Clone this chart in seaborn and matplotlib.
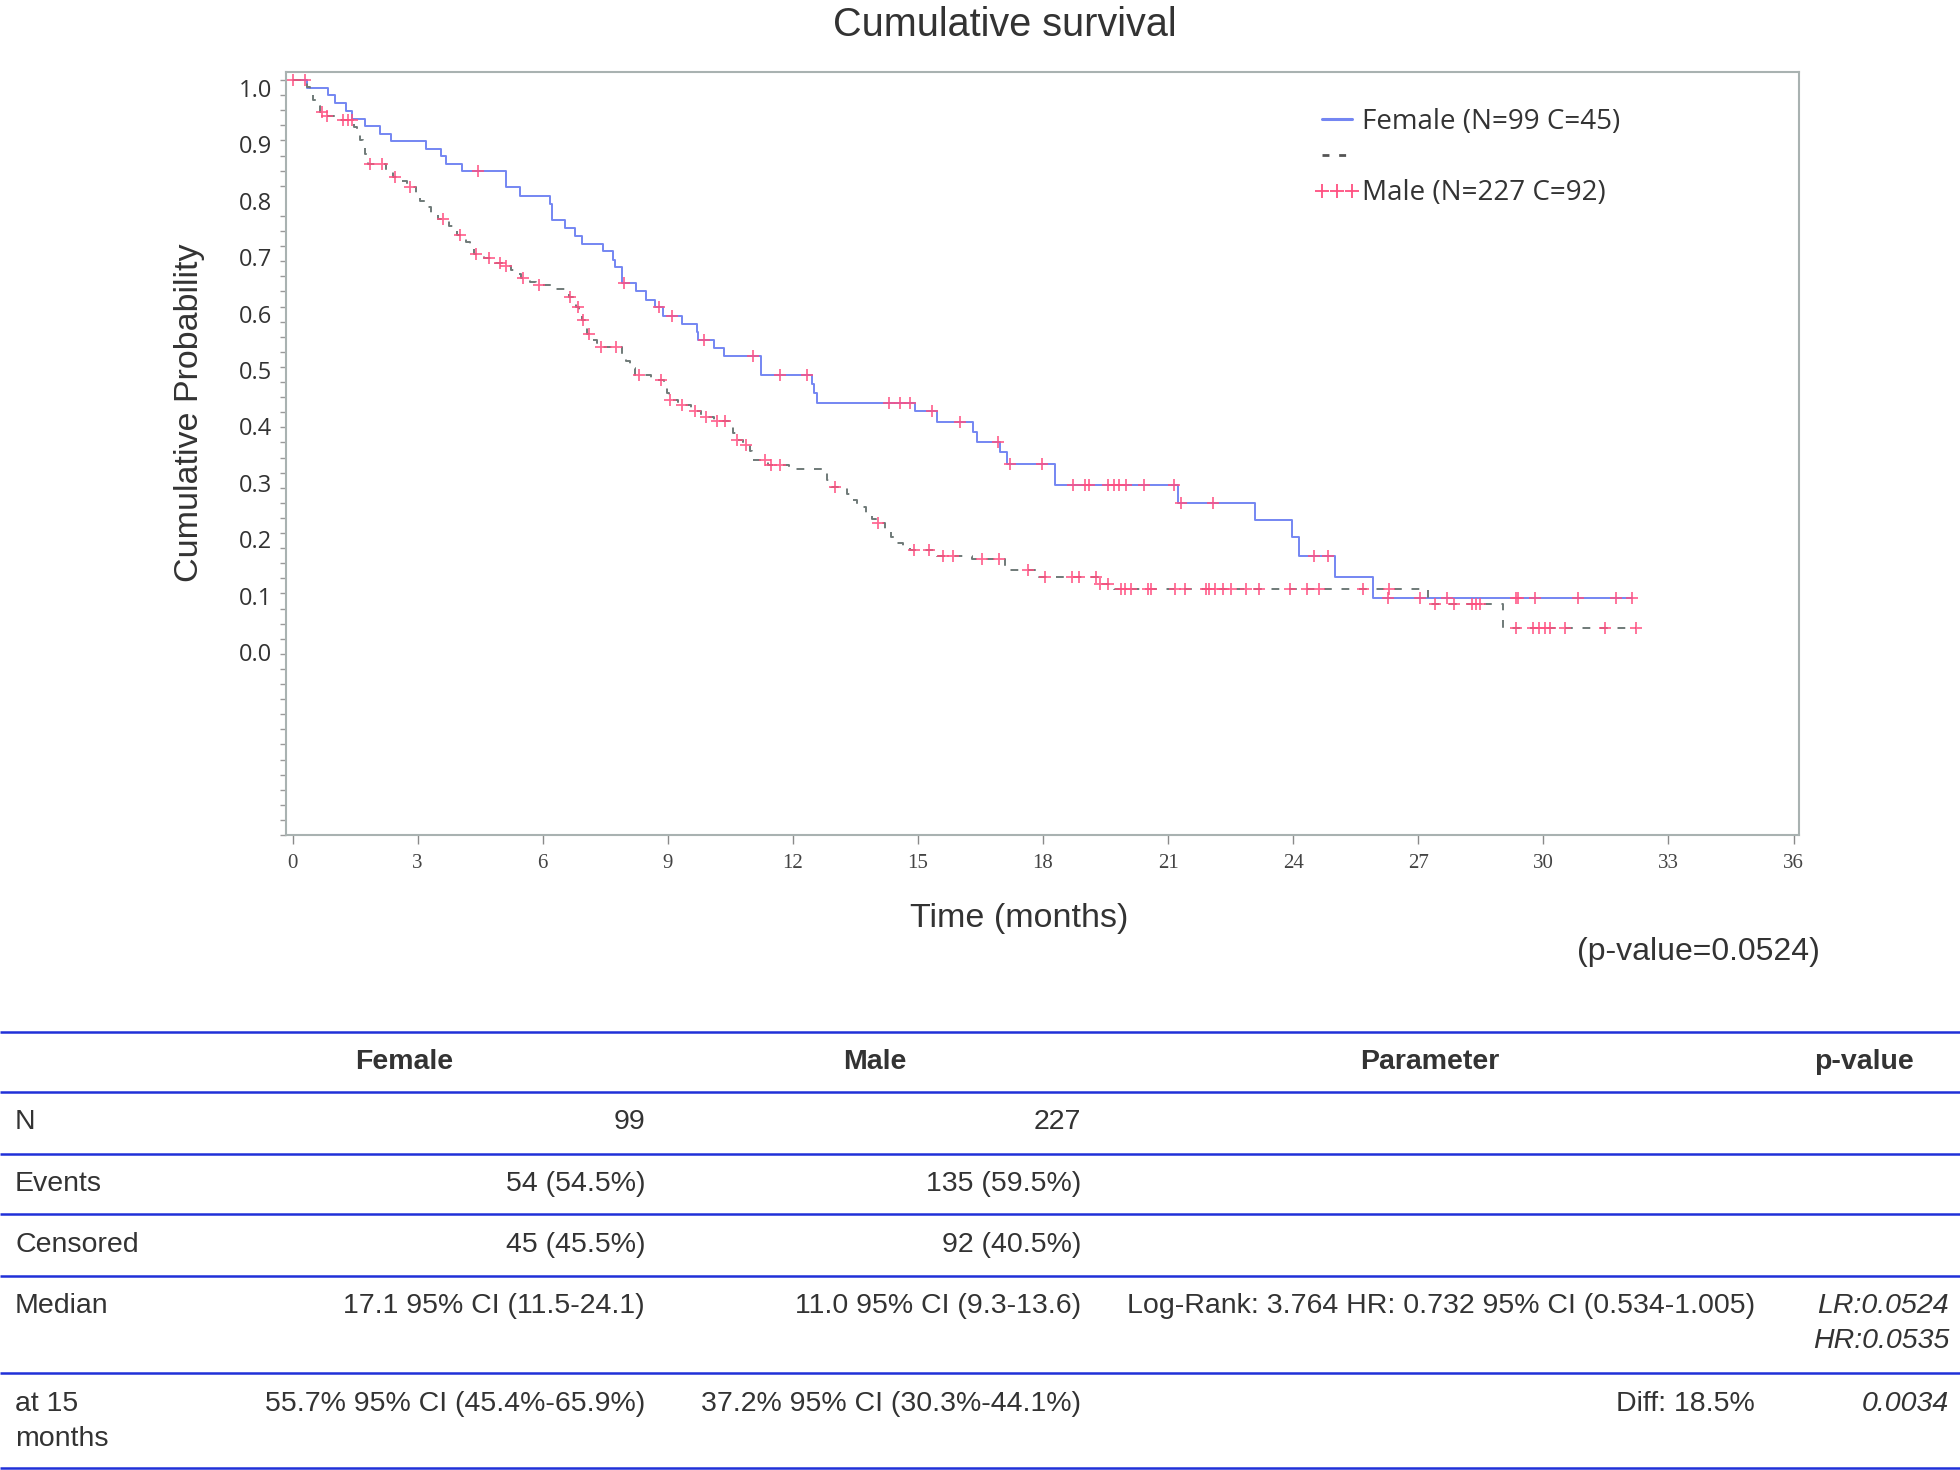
import numpy as np
import pandas as pd
import matplotlib
matplotlib.use('Agg')
from matplotlib import pyplot as plt
from matplotlib.lines import Line2D
from matplotlib.legend_handler import HandlerLine2D
import seaborn as sns

# Kaplan-Meier steps: event time (months) and survival after the drop

female_event_t = [0.34, 0.85, 1.03, 1.28, 1.43, 1.74, 2.10, 2.36, 3.19, 3.55, 3.67, 4.06,
                  5.12, 5.46, 6.17, 6.23, 6.54, 6.78, 6.95, 7.44, 7.69, 7.73, 7.91,
                  8.24, 8.47, 8.69, 8.88, 9.35, 9.69, 9.73, 10.12, 10.35, 11.24,
                  12.47, 12.51, 12.57, 14.94, 15.46, 16.32, 16.41, 16.96, 17.13,
                  18.28, 21.24, 23.09, 23.96, 24.15, 24.99, 25.91]
female_event_s = [0.990, 0.980, 0.970, 0.959, 0.949, 0.939, 0.929, 0.919, 0.909, 0.899, 0.889, 0.879,
                  0.858, 0.847, 0.836, 0.815, 0.804, 0.794, 0.783, 0.773, 0.762, 0.752, 0.731,
                  0.720, 0.709, 0.699, 0.688, 0.677, 0.666, 0.656, 0.645, 0.634, 0.609,
                  0.597, 0.585, 0.572, 0.561, 0.547, 0.534, 0.521, 0.507, 0.492,
                  0.463, 0.440, 0.417, 0.395, 0.370, 0.342, 0.3135]
female_censor_t = [4.45, 7.96, 8.79, 9.11, 9.87, 11.05, 11.68, 12.34, 14.30, 14.58, 14.81,
                   15.34, 16.0, 16.92, 17.2, 17.97, 18.71, 19.01, 19.10, 19.55, 19.69, 19.83,
                   19.99, 20.41, 21.15, 21.30, 22.08, 24.51, 24.84, 26.28, 27.04, 27.68,
                   29.34, 29.40, 29.80, 30.84, 31.74, 32.12]
female_end = 32.12

male_event_t = [0.35, 0.42, 0.50, 0.58, 0.65, 0.78, 1.05, 1.47, 1.55, 1.62, 1.68, 1.75, 1.82,
                2.25, 2.40, 2.60, 2.75, 2.95, 3.05, 3.18, 3.32, 3.50, 3.75, 3.95,
                4.15, 4.25, 4.35, 4.60, 4.85, 5.05, 5.25, 5.40, 5.48, 5.70, 5.85, 6.20,
                6.62, 6.80, 6.88, 6.95, 7.02, 7.07, 7.12, 7.30, 7.40, 7.90, 8.00, 8.10, 8.22,
                8.60, 8.90, 8.97, 9.02, 9.25, 9.55, 9.80, 10.10, 10.50, 10.57, 10.63, 10.80,
                10.98, 11.02, 11.40, 11.90, 12.83, 12.92, 13.30, 13.40, 13.55, 13.75, 13.90,
                14.00, 14.20, 14.35, 14.50, 14.65, 14.80, 15.45, 16.30, 17.08, 17.90, 19.33,
                19.70, 27.24, 29.04]
male_event_s = [0.991, 0.982, 0.974, 0.965, 0.957, 0.952, 0.947, 0.938, 0.929, 0.920, 0.911, 0.902, 0.889,
                0.880, 0.872, 0.866, 0.858, 0.849, 0.840, 0.832, 0.824, 0.816, 0.807, 0.795,
                0.786, 0.777, 0.769, 0.764, 0.758, 0.753, 0.748, 0.743, 0.738, 0.733, 0.729, 0.723,
                0.712, 0.700, 0.690, 0.682, 0.672, 0.664, 0.656, 0.651, 0.646, 0.637, 0.628, 0.619, 0.609,
                0.603, 0.594, 0.585, 0.576, 0.570, 0.561, 0.553, 0.548, 0.540, 0.532, 0.523, 0.517,
                0.508, 0.497, 0.490, 0.485, 0.470, 0.461, 0.452, 0.444, 0.435, 0.427, 0.418,
                0.413, 0.404, 0.395, 0.387, 0.382, 0.377, 0.369, 0.365, 0.351, 0.342, 0.333,
                0.326, 0.306, 0.274]
male_censor_t = [0.02, 0.30, 0.71, 0.82, 1.22, 1.34, 1.43, 1.86, 2.14, 2.45, 2.81, 3.60, 4.02,
                 4.40, 4.72, 4.98, 5.13, 5.52, 5.92, 6.66, 6.85, 6.96, 7.10, 7.41, 7.76, 8.30,
                 8.83, 9.05, 9.35, 9.65, 9.92, 10.19, 10.37, 10.67, 10.88, 11.33, 11.48, 11.69,
                 13.0, 14.05, 14.9, 15.27, 15.6, 15.85, 16.53, 16.94, 17.63, 18.04, 18.7, 18.87,
                 19.28, 19.37, 19.56, 19.88, 19.97, 20.11, 20.52, 20.6, 21.17, 21.4, 21.9, 21.99,
                 22.13, 22.31, 22.5, 22.86, 23.18, 23.93, 24.32, 24.62, 25.68, 26.30, 27.40,
                 27.85, 28.28, 28.38, 28.48, 29.34, 29.76, 29.90, 30.04, 30.16, 30.53, 31.47, 32.23]
male_end = 32.23

legend_labels = ['Female (N=99 C=45)', '', 'Male (N=227 C=92)']
x_ticks = list(range(0, 37, 3))
y_tick_labels = ['0.0', '0.1', '0.2', '0.3', '0.4', '0.5', '0.6', '0.7', '0.8', '0.9', '1.0']

# summary table
table_header = ['Female', 'Male', 'Parameter', 'p-value']
row_labels = ['N', 'Events', 'Censored', 'Median', 'at 15\nmonths']
female_col = ['99', '54 (54.5%)', '45 (45.5%)', '17.1 95% CI (11.5-24.1)', '55.7% 95% CI (45.4%-65.9%)']
male_col = ['227', '135 (59.5%)', '92 (40.5%)', '11.0 95% CI (9.3-13.6)', '37.2% 95% CI (30.3%-44.1%)']
param_col = ['', '', '', 'Log-Rank: 3.764 HR: 0.732 95% CI (0.534-1.005)', 'Diff: 18.5%']
pval_col = ['', '', '', 'LR:0.0524\nHR:0.0535', '0.0034']


def km_frame(event_t, event_s, end, group):
    t = [0.0] + event_t + [end]
    s = [1.0] + event_s + [event_s[-1]]
    return pd.DataFrame({'time': t, 'surv': s, 'group': group})


def censor_frame(curve, censor_t, group):
    idx = np.searchsorted(curve['time'].values, censor_t, side='right') - 1
    return pd.DataFrame({'time': censor_t, 'surv': curve['surv'].values[idx], 'group': group})


fem = km_frame(female_event_t, female_event_s, female_end, 'Female')
mal = km_frame(male_event_t, male_event_s, male_end, 'Male')
curves = pd.concat([fem, mal], ignore_index=True)
cens = pd.concat([censor_frame(fem, female_censor_t, 'Female'),
                  censor_frame(mal, male_censor_t, 'Male')], ignore_index=True)

sns.set_style('white')
plt.rcParams['font.family'] = ['Liberation Sans', 'DejaVu Sans']
txt = '#333333'
blue = '#7486f2'
grey = '#6f7a78'
pink = '#ff4f80'

W, H = 1960, 1470
fig = plt.figure(figsize=(19.6, 14.7), dpi=100)
ax = fig.add_axes([286 / W, 1 - 835 / H, 1513 / W, 763 / H])

sns.lineplot(data=curves, x='time', y='surv', hue='group', style='group',
             palette={'Female': blue, 'Male': grey},
             dashes={'Female': '', 'Male': (4, 5)},
             drawstyle='steps-post', estimator=None, sort=False,
             linewidth=1.4, legend=False, ax=ax)
sns.scatterplot(data=cens, x='time', y='surv', marker='+', s=85, color=pink,
                linewidth=1.3, alpha=0.85, legend=False, ax=ax, zorder=3)

ax.set_xlim(-0.156, 36.13)
ax.set_ylim(0, 1.0106)
ax.set_xticks(x_ticks)
ax.set_xticklabels([str(v) for v in x_ticks], family='Liberation Serif', fontsize=15, color='#444444')
# labels sit where the original figure drew them
ax.set_yticks(np.linspace(0.2424, 0.9894, 11))
ax.set_yticklabels(y_tick_labels, family='Open Sans', fontsize=17, color=txt)
ax.set_yticks(np.arange(0, 1.001, 0.02), minor=True)
ax.tick_params(axis='y', which='major', length=0, pad=10)
ax.tick_params(axis='y', which='minor', left=True, length=4, width=1, color='#9a9a9a')
ax.tick_params(axis='x', which='major', bottom=True, length=6.5, width=1, color='#8a8a8a', pad=7)
for sp in ax.spines.values():
    sp.set_color('#a9b2b1')
    sp.set_linewidth(1.5)

ax.set_xlabel('Time (months)', fontsize=24.5, color=txt, va='center')
ax.xaxis.set_label_coords(0.4848, -0.110)
ax.set_ylabel('Cumulative Probability', fontsize=24.5, color=txt, va='center')
ax.yaxis.set_label_coords(-0.064, 0.554)

handles = [Line2D([], [], color=blue, lw=2.2),
           Line2D([], [], color='#555555', lw=2, dashes=(2.5, 3.5)),
           Line2D([], [], color=pink, marker='+', linestyle='', markersize=9.5, markeredgewidth=1.3)]
ax.legend(handles, legend_labels, loc='upper left', bbox_to_anchor=(0.6847, 0.953),
          frameon=False, numpoints=3, handlelength=1.08, handletextpad=0.35,
          labelspacing=0.28, borderpad=0, borderaxespad=0,
          handler_map={Line2D: HandlerLine2D(marker_pad=0)},
          prop={'family': 'Open Sans', 'size': 20}, labelcolor=txt)

fig.text(1005 / W, 1 - 25 / H, 'Cumulative survival', fontsize=28.5, color=txt, ha='center', va='center')

# table drawn in pixel space below the chart
tax = fig.add_axes([0, 0, 1, 1])
tax.set_xlim(0, W)
tax.set_ylim(H, 0)
tax.axis('off')
tax.text(1820, 952, '(p-value=0.0524)', fontsize=23, color=txt, ha='right', va='center')

for y in [1032, 1092, 1154, 1214, 1276, 1373, 1468]:
    tax.plot([0, W], [y, y], color='#2030d8', lw=1.8, solid_capstyle='butt')

tfs = 20.5
for cx, head in zip([404, 875, 1430, 1864], table_header):
    tax.text(cx, 1062, head, fontsize=tfs, fontweight='bold', color=txt, ha='center', va='center')

row_y = [1122, 1184, 1245, 1306, 1404]
cols = [(15, 'left', row_labels, 'normal'), (645, 'right', female_col, 'normal'),
        (1081, 'right', male_col, 'normal'), (1755, 'right', param_col, 'normal'),
        (1949, 'right', pval_col, 'italic')]
for x, ha, vals, style in cols:
    for y0, val in zip(row_y, vals):
        for i, line in enumerate(val.split('\n')):
            tax.text(x, y0 + i * 35, line, fontsize=tfs, color=txt, ha=ha, va='center', style=style)

fig.savefig('out.png', dpi=100)
